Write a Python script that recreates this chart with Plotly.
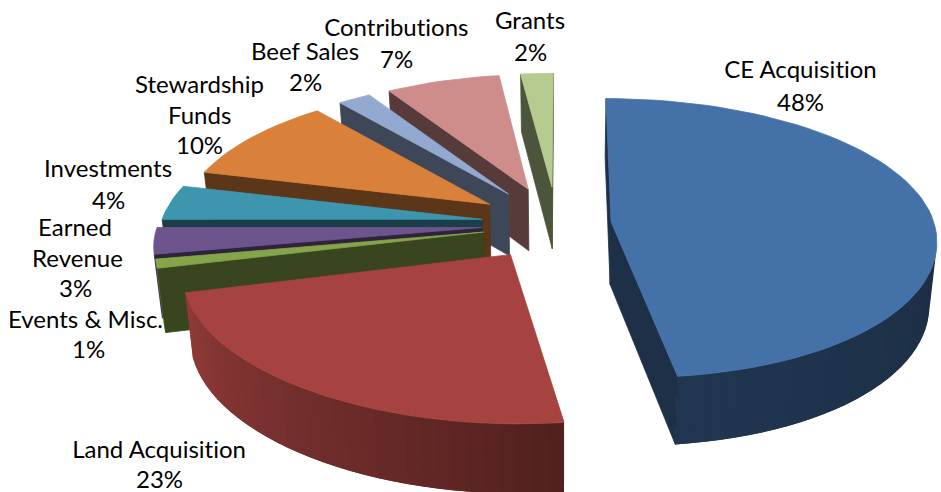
import math
import plotly.graph_objects as go

# Funding sources, clockwise from twelve o'clock
categories = ["CE Acquisition", "Land Acquisition", "Events & Misc.", "Earned Revenue",
              "Investments", "Stewardship Funds", "Beef Sales", "Contributions", "Grants"]
values = [48, 23, 1, 3, 4, 10, 2, 7, 2]

top_colors = ["#4472A8", "#A64340", "#86A44A", "#6E548D", "#3E96AE",
              "#D9803A", "#93A9CF", "#CE8D8B", "#B5CB8F"]

# Sideways pull of each wedge, relative to EXPLODE_X
pull_x = [0.8, 1, 0.95, 0.95, 0.95, 1, 1, 0.95, 0]

# Label lines: text, centre x, centre y
label_lines = {
    "CE Acquisition": [("CE Acquisition", 800, 68), ("{}%", 800, 101)],
    "Land Acquisition": [("Land Acquisition", 159, 448), ("{}%", 159, 478)],
    "Events & Misc.": [("Events & Misc.", 85, 318), ("{}%", 88, 348)],
    "Earned Revenue": [("Earned", 75, 226), ("Revenue", 77, 257), ("{}%", 75, 287)],
    "Investments": [("Investments", 108, 167), ("{}%", 108, 199)],
    "Stewardship Funds": [("Stewardship", 199, 83), ("Funds", 199, 114), ("{}%", 199, 144)],
    "Beef Sales": [("Beef Sales", 305, 50), ("{}%", 305, 81)],
    "Contributions": [("Contributions", 396, 26), ("{}%", 396, 58)],
    "Grants": [("Grants", 530, 19), ("{}%", 530, 51)],
}

# Projection of the disc onto the page
CX, CY = 552.0, 224.0       # centre of the un-exploded pie
EXPLODE_X, EXPLODE_Y = 74.0, 37.0
RX, RY = 325.0, 138.4
PERSP = 0.118               # foreshortening across a wedge, far to near
DEPTH_X, DEPTH_Y = 0.45, 0.33   # size change with a wedge's own distance
VPX = 563.0                 # horizontal vanishing point
NEAR_SKEW = 0.04
DEPTH_SCALE = 0.98          # lower face shrinks toward the vanishing point


def hex_rgb(c):
    return tuple(int(c[i:i + 2], 16) for i in (1, 3, 5))


def shade(c, f):
    r, g, b = hex_rgb(c)
    return f"rgb({r * f:.0f},{g * f:.0f},{b * f:.0f})"


def project(ax, ay, theta):
    u = math.sin(theta)
    v = -math.cos(theta)
    w = 1 - PERSP * v
    depth = (CY - ay) / RY
    scale_x = 1 + DEPTH_X * max(depth, 0)
    scale_y = 1 + DEPTH_Y * depth
    du = u + NEAR_SKEW * max(v, 0) ** 2
    return VPX + (ax - VPX) / w + RX * du / (w * scale_x), ay + RY * v / (w * scale_y)


def lower(p):
    x, y = p
    return VPX + (x - VPX) * DEPTH_SCALE, y + 58.5 + 0.035 * (y - 100)


def signed_area(pts):
    s = 0.0
    for (x0, y0), (x1, y1) in zip(pts, pts[1:] + pts[:1]):
        s += x0 * y1 - x1 * y0
    return s / 2


def rim_shade(deg):
    # Side walls are darkest facing right and lighten round the front to the left
    if deg <= 170:
        return 0.40 + max(deg - 90, 0) / 80 * 0.07
    if deg >= 262:
        return 0.9
    return 0.47 + (deg - 170) / 92 * 0.43


fig = go.Figure()


def add_face(pts, color, edge=0.8):
    xs = [p[0] for p in pts] + [pts[0][0]]
    ys = [p[1] for p in pts] + [pts[0][1]]
    fig.add_trace(go.Scatter(x=xs, y=ys, mode="lines", fill="toself", fillcolor=color,
                             line=dict(color=color, width=edge), hoverinfo="skip",
                             showlegend=False))


total = sum(values)
spans = []
acc = 0
for val in values:
    spans.append((acc / total * 360, (acc + val) / total * 360))
    acc += val

# Far wedges first so nearer ones paint over them; the first wedge never overlaps
draw_order = list(range(len(values) - 1, -1, -1))

for i in draw_order:
    start, end = spans[i]
    mid = math.radians((start + end) / 2)
    ax = CX + EXPLODE_X * pull_x[i] * math.sin(mid)
    ay = CY - EXPLODE_Y * math.cos(mid)
    apex = (ax, ay)
    color = top_colors[i]

    steps = max(4, int((end - start) / 2.5))
    degs = [start + (end - start) * k / steps for k in range(steps + 1)]
    rim = [project(ax, ay, math.radians(d)) for d in degs]

    # Outer wall, only the strips that face the viewer
    faces = []
    for k in range(steps):
        quad = [rim[k], rim[k + 1], lower(rim[k + 1]), lower(rim[k])]
        if signed_area(quad) < -0.01:
            faces.append((quad, shade(color, rim_shade((degs[k] + degs[k + 1]) / 2))))
    for n, (quad, col) in enumerate(faces):
        if n + 1 < len(faces):
            # Overlap each strip with the next so no seams show between them
            nxt = faces[n + 1][0]
            quad = [quad[0], nxt[1], nxt[2], quad[3]]
        add_face(quad, col, edge=0)

    # Radial walls
    start_wall = [apex, rim[0], lower(rim[0]), lower(apex)]
    if signed_area(start_wall) < 0:
        add_face(start_wall, shade(color, 0.42))
    end_wall = [rim[-1], apex, lower(apex), lower(rim[-1])]
    if signed_area(end_wall) < 0:
        add_face(end_wall, shade(color, 0.42))

    add_face([apex] + rim, color)

annotations = []
for name, val in zip(categories, values):
    for text, x, y in label_lines[name]:
        annotations.append(dict(x=x, y=y, xref="x", yref="y", text=text.format(val),
                                showarrow=False, xanchor="center", yanchor="middle",
                                font=dict(family="Lato", size=24, color="#000000")))

fig.update_layout(
    width=941, height=492, autosize=False,
    margin=dict(l=0, r=0, t=0, b=0),
    paper_bgcolor="#FFFFFF", plot_bgcolor="#FFFFFF",
    xaxis=dict(range=[0, 941], visible=False, fixedrange=True),
    yaxis=dict(range=[492, 0], visible=False, fixedrange=True),
    annotations=annotations,
    showlegend=False,
)

# Plain "t" and "i" in the labels rather than the font's joined form
no_ligatures = ("document.querySelectorAll('.annotation-text')"
                ".forEach(function(t){t.style.fontVariantLigatures='none';});")
fig.write_html("out.html", config=dict(displayModeBar=False), post_script=no_ligatures)
